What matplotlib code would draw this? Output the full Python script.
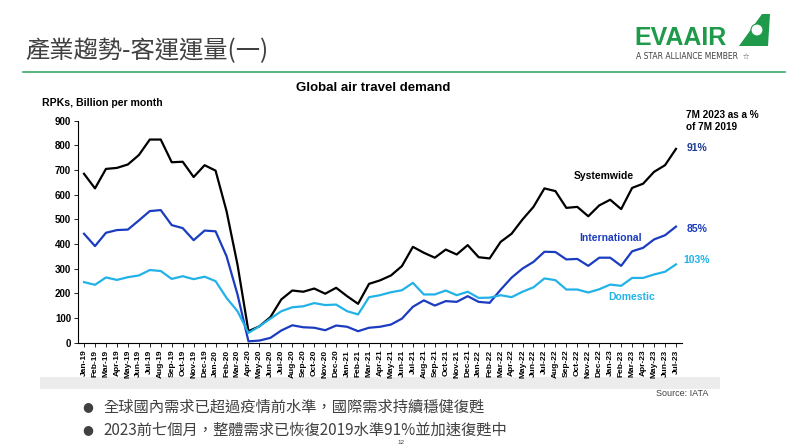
import pandas as pd
import matplotlib
matplotlib.use("Agg")
import matplotlib.pyplot as plt
from matplotlib.patches import Polygon, Rectangle, Ellipse

plt.rcParams['font.family'] = ['Liberation Sans', 'Noto Sans CJK TC', 'DejaVu Sans']

# data (RPKs, billion per month)
months = list(pd.date_range('2019-01-01', '2023-07-01', freq='MS').strftime('%b-%y'))

systemwide = [685, 626, 705, 709, 723, 761, 824, 824, 732, 734, 672, 720,
              698, 534, 317, 47, 67, 104, 176, 212, 207, 220, 199, 223,
              189, 158, 239, 253, 273, 311, 389, 365, 345, 378, 358, 396,
              347, 342, 409, 442, 500, 551, 626, 615, 547, 551, 513, 557,
              580, 542, 628, 645, 693, 720, 786]
international = [442, 392, 446, 457, 459, 496, 534, 538, 477, 465, 416, 455,
                 452, 351, 196, 6, 9, 20, 50, 71, 63, 61, 51, 70,
                 65, 47, 61, 65, 74, 98, 146, 172, 151, 169, 166, 189,
                 166, 162, 215, 264, 301, 328, 369, 368, 338, 340, 312, 345,
                 345, 312, 371, 385, 419, 436, 471]
domestic = [246, 235, 265, 255, 266, 273, 295, 291, 259, 270, 258, 268,
            250, 182, 128, 40, 67, 98, 128, 144, 148, 161, 153, 155,
            128, 115, 185, 193, 205, 213, 243, 196, 196, 212, 193, 207,
            182, 183, 193, 185, 207, 225, 261, 254, 216, 216, 204, 217,
            236, 231, 263, 263, 277, 288, 318]

share_labels = ['91%', '85%', '103%']

W, H = 800, 447


def px(x, y):
    # pixel position on the slide -> figure fraction
    return x / W, 1 - y / H


fig = plt.figure(figsize=(8, 4.47), dpi=100)

# slide header
cjk = ['Noto Sans CJK TC', 'DejaVu Sans']
fig.text(*px(25, 51), '產業趨勢-客運運量(一)', family=cjk, fontsize=17.5,
         color='#404040', va='center', ha='left')
fig.add_artist(plt.Line2D([23 / W, 785 / W], [1 - 72 / H, 1 - 72 / H],
                          color='#3aaa6a', lw=1.2))

# EVA AIR logo (approximate)
fig.text(*px(634, 38), 'EVAAIR', fontsize=18, fontweight='bold',
         color='#1e9a4a', va='center', ha='left')
fig.add_artist(Polygon([px(739, 46), px(762, 14), px(770, 14), px(768, 46)],
                       closed=True, facecolor='#1e9a4a', edgecolor='none'))
fig.add_artist(Ellipse(px(757, 30), 12 / W, 12 / H, facecolor='white',
                       edgecolor='#1e9a4a', lw=0.8))
fig.text(*px(636, 56), 'A STAR ALLIANCE MEMBER  \u2606', fontsize=5.5,
         color='#404040', va='center', ha='left', family=['DejaVu Sans'])

# grey band under the tick labels
fig.add_artist(Rectangle(px(40, 389), 680 / W, 12 / H, facecolor='#ececec',
                         edgecolor='none', zorder=-1))

ax = fig.add_axes([78 / W, 1 - 342.8 / H, 604 / W, 222 / H])
ax.patch.set_alpha(0)
x = range(len(months))
ax.plot(x, systemwide, color='black', lw=1.6)
ax.plot(x, international, color='#1b3cc0', lw=1.6)
ax.plot(x, domestic, color='#22b2e8', lw=1.6)

ax.set_xlim(-0.55, len(months) - 0.45)
ax.set_ylim(0, 900)
ax.set_yticks(range(0, 901, 100))
ax.set_xticks(list(x))
ax.set_xticklabels(months, rotation=90, fontsize=6.0, fontweight='bold')
for lab in ax.get_yticklabels():
    lab.set_fontsize(7)
    lab.set_fontweight('bold')
ax.tick_params(axis='both', length=3, width=0.6, pad=2)
ax.spines['top'].set_visible(False)
ax.spines['right'].set_visible(False)
for s in ['left', 'bottom']:
    ax.spines[s].set_linewidth(0.8)

# series names
ax.text(47.4, 676, 'Systemwide', fontsize=7.5, fontweight='bold',
        color='black', ha='center', va='center')
ax.text(48.0, 425, 'International', fontsize=7.5, fontweight='bold',
        color='#1b3cc0', ha='center', va='center')
ax.text(50.0, 186, 'Domestic', fontsize=7.5, fontweight='bold',
        color='#22b2e8', ha='center', va='center')

# chart titles and notes
fig.text(*px(373, 88), 'Global air travel demand', fontsize=9.5,
         fontweight='bold', ha='center', va='center')
fig.text(*px(42, 103), 'RPKs, Billion per month', fontsize=7.6,
         fontweight='bold', ha='left', va='center')
fig.text(*px(686, 121), '7M 2023 as a %\nof 7M 2019', fontsize=7.2,
         fontweight='bold', ha='left', va='center', linespacing=1.3)
for lab, yy, col in zip(share_labels, [148, 229, 260],
                        ['#1f3a93', '#1b3cc0', '#22b2e8']):
    fig.text(*px(697, yy), lab, fontsize=7.5, fontweight='bold', color=col,
             ha='center', va='center')
fig.text(*px(708, 394), 'Source: IATA', fontsize=6.5, color='#404040',
         ha='right', va='center')

# bullets
bullets = ['全球國內需求已超過疫情前水準，國際需求持續穩健復甦',
           '2023前七個月，整體需求已恢復2019水準91%並加速復甦中']
for yy, txt in zip([407, 430], bullets):
    fig.text(*px(88, yy), '\u25cf', fontsize=9, color='#404040',
             ha='center', va='center', family=['DejaVu Sans'])
    fig.text(*px(103, yy), txt, fontsize=11, color='#404040',
             ha='left', va='center', family=cjk)
fig.text(*px(401, 443), '12', fontsize=4.5, color='#404040', ha='center',
         va='center')

fig.savefig('out.png', dpi=100)
